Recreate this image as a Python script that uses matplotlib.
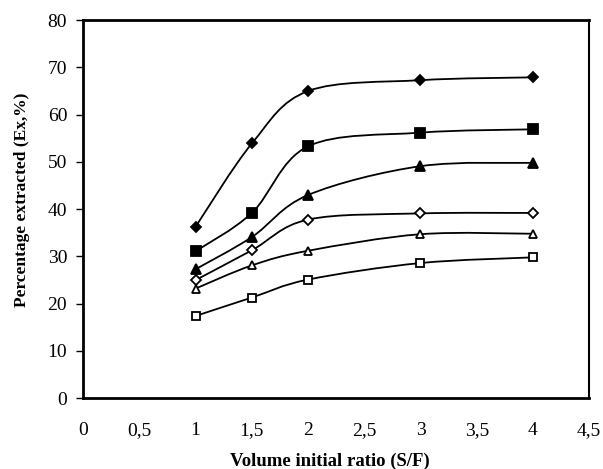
import numpy as np
import matplotlib
matplotlib.use('Agg')
import matplotlib.pyplot as plt
from matplotlib.path import Path
from matplotlib.patches import PathPatch

plt.rcParams['font.family'] = ['Liberation Serif', 'DejaVu Serif']

# data
ratio = [1, 1.5, 2, 3, 4]
s_fdiamond = [36.3, 53.9, 65.0, 67.3, 67.9]
s_fsquare = [31.1, 39.2, 53.3, 56.2, 56.9]
s_ftriangle = [27.3, 34.1, 43.0, 49.1, 49.8]
s_odiamond = [25.0, 31.3, 37.8, 39.1, 39.2]
s_otriangle = [23.2, 28.1, 31.2, 34.7, 34.8]
s_osquare = [17.4, 21.3, 25.1, 28.6, 29.8]

series = [
    (s_fdiamond, 'D', 'black', 5),
    (s_fsquare, 's', 'black', 6.5),
    (s_ftriangle, '^', 'black', 6.5),
    (s_odiamond, 'D', 'white', 5),
    (s_otriangle, '^', 'white', 6),
    (s_osquare, 's', 'white', 6),
]


def smooth_path(x, y):
    # Excel-style smoothed line as cubic bezier segments
    pts = np.column_stack([x, y]).astype(float)
    n = len(pts)
    verts = [pts[0]]
    codes = [Path.MOVETO]
    for i in range(n - 1):
        p0 = pts[i - 1] if i > 0 else pts[i]
        p1 = pts[i]
        p2 = pts[i + 1]
        p3 = pts[i + 2] if i + 2 < n else pts[i + 1]
        c1 = p1 + (p2 - p0) / 6.0
        c2 = p2 - (p3 - p1) / 6.0
        verts += [c1, c2, p2]
        codes += [Path.CURVE4] * 3
    return Path(verts, codes)


fig, ax = plt.subplots(figsize=(6.03, 4.69), dpi=100)
fig.subplots_adjust(left=0.138, right=0.977, top=0.957, bottom=0.151)

for vals, mk, fc, ms in series:
    ax.add_patch(PathPatch(smooth_path(ratio, vals), fill=False,
                           edgecolor='black', linewidth=1.3, zorder=2))
    ax.plot(ratio, vals, linestyle='none', marker=mk, markersize=ms,
            markerfacecolor=fc, markeredgecolor='black',
            markeredgewidth=1.3, zorder=3)

ax.set_xlim(0, 4.5)
ax.set_ylim(0, 80)
xt = np.arange(0, 4.51, 0.5)
ax.set_xticks(xt)
ax.set_xticklabels([('%g' % v).replace('.', ',') for v in xt])
ax.set_yticks(range(0, 81, 10))
ax.tick_params(axis='x', length=0, pad=17, labelsize=14)
ax.tick_params(axis='y', length=5, width=1, pad=6.5, labelsize=14)

for side in ['left', 'bottom', 'top']:
    ax.spines[side].set_linewidth(2)
ax.spines['right'].set_linewidth(1.5)

ax.set_xlabel('Volume initial ratio (S/F)', fontsize=13.5,
              fontweight='bold', labelpad=10)
ax.set_ylabel('Percentage extracted (Ex,%)', fontsize=12.5,
              fontweight='bold', labelpad=13)
ax.xaxis.label.set_x(0.488)
ax.yaxis.label.set_y(0.524)

plt.savefig('out.png', dpi=100)
